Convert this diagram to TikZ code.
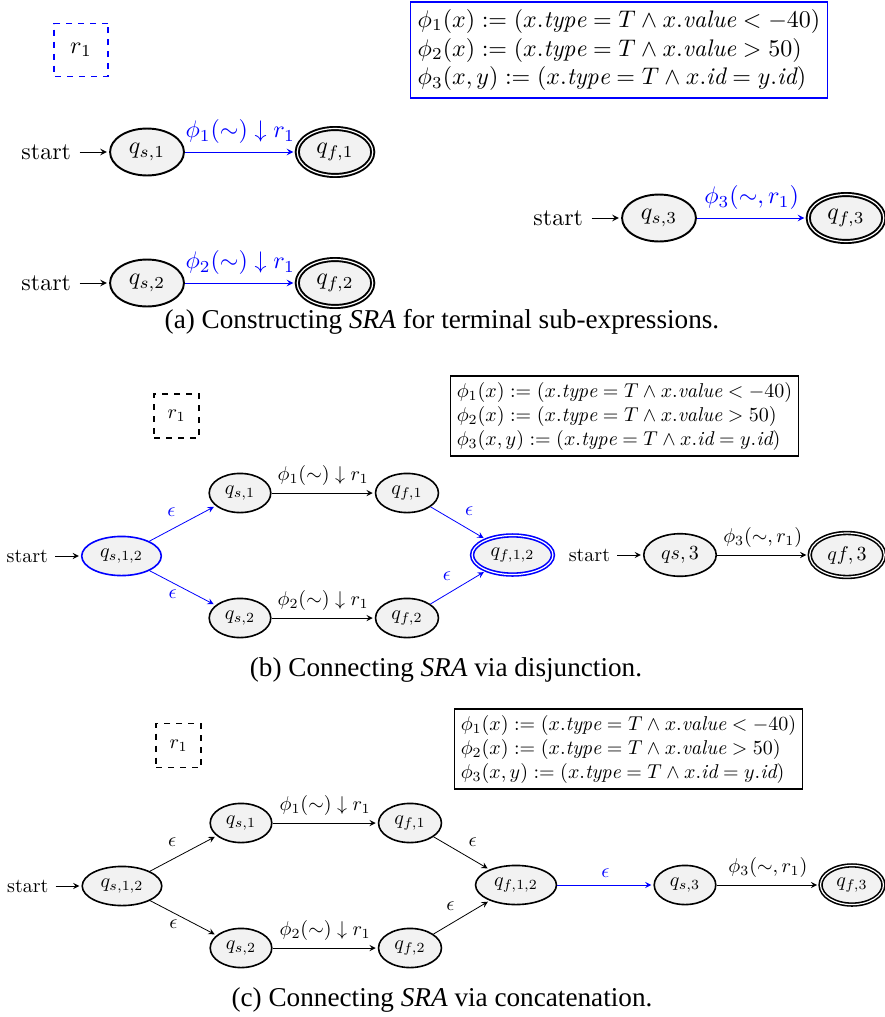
\documentclass[tikz,border=0pt]{standalone}
\usepackage{amsmath}
\usepackage{amssymb}
\usepackage{fontspec}
\newfontfamily\capfont{Liberation Serif}
\usetikzlibrary{automata,positioning,shapes.geometric}
\tikzstyle{regbox} = [rectangle, draw, dashed, semithick, minimum width=22.5pt, minimum height=22pt]
\tikzstyle{predbox} = [rectangle, draw, semithick, align=left, inner sep=3pt]
\tikzstyle{caption} = [font=\capfont\fontsize{13.6}{16}\selectfont]
\newcommand{\predtable}{%
  $\phi_1(x) := (x.\mathit{type} = T \land x.\mathit{value} < -40)$\\
  $\phi_2(x) := (x.\mathit{type} = T \land x.\mathit{value} > 50)$\\
  $\phi_3(x,y) := (x.\mathit{type} = T \land x.\mathit{id} = y.\mathit{id})$}

\begin{document}
\begin{tikzpicture}[>=stealth,shorten >=1pt,auto,
  every state/.style={ellipse, draw, thick, fill=gray!10, minimum size=0pt}]
  \useasboundingbox (0pt,0pt) rectangle (442pt,-508.5pt);

  % (a) terminal sub-expressions
  \begin{scope}[every node/.append style={scale=1.2}, initial distance=3.4ex,
    every state/.append style={line width=0.96pt},
    every edge/.append style={line width=0.48pt}]
  \draw (40.5pt, -25.0pt)node[regbox, draw=blue](ra){$r_1$};
  \draw (309.5pt, -25.0pt)node[predbox, draw=blue](pa){\predtable};
  \draw (73.5pt, -76.0pt)node[state, initial](a0){$q_{s,1}$};
  \draw (167.5pt, -76.0pt)node[state, accepting](a1){$q_{f,1}$};
  \draw (73.5pt, -141.5pt)node[state, initial](a2){$q_{s,2}$};
  \draw (167.5pt, -141.5pt)node[state, accepting](a3){$q_{f,2}$};
  \draw (329.5pt, -109.0pt)node[state, initial](a4){$q_{s,3}$};
  \draw (423.0pt, -109.0pt)node[state, accepting](a5){$q_{f,3}$};
  \path[->, blue] (a0) edge node{$\phi_1(\sim) \downarrow r_1$}(a1);
  \path[->, blue] (a2) edge node{$\phi_2(\sim) \downarrow r_1$}(a3);
  \path[->, blue] (a4) edge node{$\phi_3(\sim, r_1)$}(a5);
  \end{scope}
  \draw (221.0pt, -161.0pt)node[caption](capa){(a) Constructing \textit{SRA} for terminal sub-expressions.};

  % (b) disjunction
  \draw (88.25pt, -208.0pt)node[regbox](rb){$r_1$};
  \draw (312.25pt, -208.0pt)node[predbox](pb){\predtable};
  \draw (60.75pt, -278.0pt)node[state, initial, draw=blue](b0){$q_{s,1,2}$};
  \draw (120.0pt, -246.5pt)node[state](b1){$q_{s,1}$};
  \draw (203.5pt, -246.5pt)node[state](b2){$q_{f,1}$};
  \draw (120.0pt, -309.0pt)node[state](b3){$q_{s,2}$};
  \draw (203.5pt, -309.0pt)node[state](b4){$q_{f,2}$};
  \draw (256.25pt, -277.5pt)node[state, accepting, draw=blue](b5){$q_{f,1,2}$};
  \draw (340.0pt, -277.5pt)node[state, initial](b6){$qs,3$};
  \draw (423.5pt, -277.5pt)node[state, accepting](b7){$qf,3$};
  \path[->, blue] (b0) edge node{$\epsilon$}(b1);
  \path[->, blue] (b0) edge node[below, pos=0.35]{$\epsilon$}(b3);
  \path[->] (b1) edge node{$\phi_1(\sim) \downarrow r_1$}(b2);
  \path[->] (b3) edge node{$\phi_2(\sim) \downarrow r_1$}(b4);
  \path[->, blue] (b2) edge node{$\epsilon$}(b5);
  \path[->, blue] (b4) edge node{$\epsilon$}(b5);
  \path[->] (b6) edge node{$\phi_3(\sim, r_1)$}(b7);
  \draw (223.0pt, -335.0pt)node[caption](capb){(b) Connecting \textit{SRA} via disjunction.};

  % (c) concatenation
  \draw (89.25pt, -372.75pt)node[regbox](rc){$r_1$};
  \draw (314.25pt, -374.5pt)node[predbox](pc){\predtable};
  \draw (61.0pt, -443.0pt)node[state, initial](c0){$q_{s,1,2}$};
  \draw (120.5pt, -411.5pt)node[state](c1){$q_{s,1}$};
  \draw (205.0pt, -411.5pt)node[state](c2){$q_{f,1}$};
  \draw (120.5pt, -474.0pt)node[state](c3){$q_{s,2}$};
  \draw (205.0pt, -474.0pt)node[state](c4){$q_{f,2}$};
  \draw (258.0pt, -442.5pt)node[state](c5){$q_{f,1,2}$};
  \draw (342.5pt, -442.5pt)node[state](c6){$q_{s,3}$};
  \draw (426.0pt, -442.5pt)node[state, accepting](c7){$q_{f,3}$};
  \path[->] (c0) edge node{$\epsilon$}(c1);
  \path[->] (c0) edge node[below, pos=0.35]{$\epsilon$}(c3);
  \path[->] (c1) edge node{$\phi_1(\sim) \downarrow r_1$}(c2);
  \path[->] (c3) edge node{$\phi_2(\sim) \downarrow r_1$}(c4);
  \path[->] (c2) edge node{$\epsilon$}(c5);
  \path[->] (c4) edge node{$\epsilon$}(c5);
  \path[->, blue] (c5) edge node{$\epsilon$}(c6);
  \path[->] (c6) edge node{$\phi_3(\sim, r_1)$}(c7);
  \draw (221.0pt, -500.0pt)node[caption](capc){(c) Connecting \textit{SRA} via concatenation.};
\end{tikzpicture}
\end{document}
